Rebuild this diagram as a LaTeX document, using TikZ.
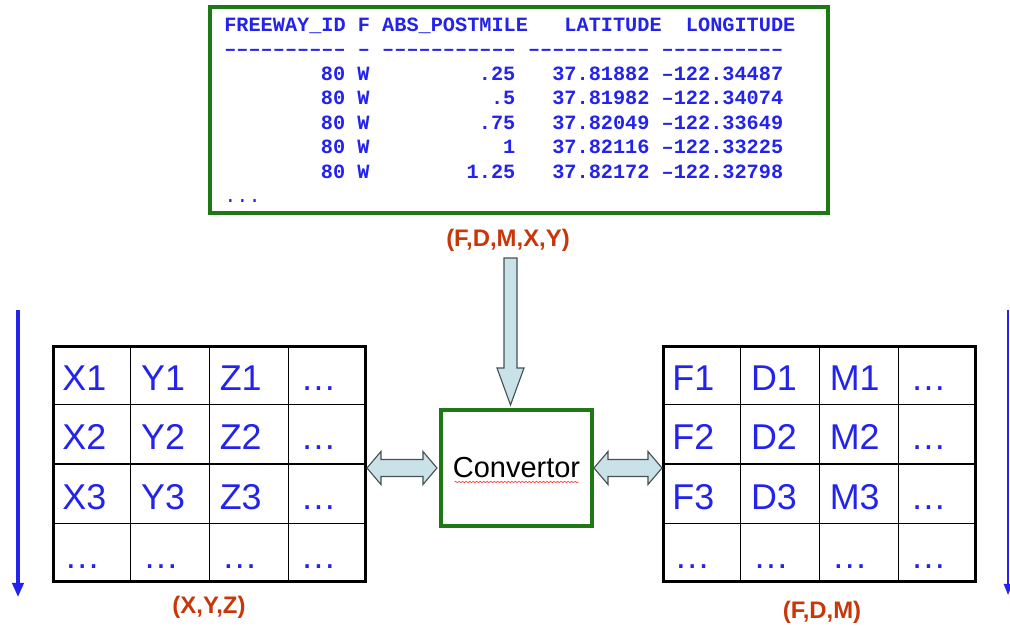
\documentclass[tikz,border=0pt]{standalone}
\usepackage{fontspec}
\setmainfont{Liberation Sans}
\setmonofont{Liberation Mono}
\usetikzlibrary{arrows.meta,calc,decorations.pathmorphing}
\frenchspacing

\definecolor{tblue}{RGB}{35,35,235}
\definecolor{fgreen}{RGB}{30,120,20}
\definecolor{lred}{RGB}{200,55,10}
\definecolor{afill}{RGB}{200,226,232}
\definecolor{aline}{RGB}{70,80,85}

\newcommand{\dashes}[1]{\foreach \k in {1,...,#1}{–}}

\tikzset{
  frame/.style={draw=fgreen, line width=2.8pt, fill=white},
  gridbox/.style={draw, line width=2pt, minimum width=7.8cm, minimum height=5.875cm},
  gridline/.style={line width=0.9pt},
  cell/.style={anchor=base west, inner sep=0pt, text=tblue, font=\fontsize{25.5}{28}\selectfont},
  code/.style={anchor=base west, inner sep=0pt, text=tblue, font=\fontsize{14.4}{16}\selectfont\ttfamily\bfseries},
  tuple/.style={inner sep=0pt, text=lred, font=\fontsize{17}{20}\selectfont\bfseries},
  blockar/.style={draw=aline, fill=afill, line width=0.8pt, line join=miter},
  sidearrow/.style={draw=tblue, -{Triangle[length=10pt,width=8pt]}},
  spell/.style={draw=red!75!white, line width=0.5pt, decorate, decoration={snake, amplitude=0.5pt, segment length=2.5pt}}
}

\begin{document}
\begin{tikzpicture}[x=0.025cm, y=-0.025cm]
  \useasboundingbox (0,0) rectangle (1010,628);

  % query output
  \node[frame, minimum width=15.45cm, minimum height=5.15cm] (table) at (519,110) {};
  \node[code] (head) at (224,31.5) {FREEWAY\_ID~F~ABS\_POSTMILE~~~LATITUDE~~LONGITUDE};
  \node[code] (rule) at (224,56) {\dashes{10}~–~\dashes{11}~\dashes{10}~\dashes{10}};
  \foreach \post/\lat/\lon [count=\i] in {.25/37.81882/122.34487, .5/37.81982/122.34074,
      .75/37.82049/122.33649, 1/37.82116/122.33225, 1.25/37.82172/122.32798} {
    \node[code, anchor=base east] (fw\i) at (224+12*12.15, 56+24.5*\i) {80~W};
    \node[code, anchor=base east] (pm\i) at (224+24*12.15, 56+24.5*\i) {\post};
    \node[code] (ll\i) at (224+27*12.15, 56+24.5*\i) {\lat~–\lon};
  }
  \node[code, font=\fontsize{14.4}{16}\selectfont\ttfamily] (more) at (224,203) {...};

  \node[tuple] (fdmxy) at (508,240) {(F,D,M,X,Y)};

  % converter and the two tables
  \node[frame, minimum width=3.775cm, minimum height=2.9cm, font=\fontsize{20.6}{24}\selectfont] (conv) at (516.5,468) {Convertor};
  \draw[spell] ($(conv.base)+(-62,4)$) -- ($(conv.base)+(62,4)$);

  \node[gridbox] (xyz) at (209.5,464) {};
  \node[gridbox] (fdm) at (819.5,464) {};
  \foreach \g/\a/\b/\c in {xyz/X/Y/Z, fdm/F/D/M} {
    \foreach \n in {1,2,3} {
      \draw[gridline] ($(\g.north west)+(\n*78.75,0)$) -- ($(\g.south west)+(\n*78.75,0)$);
      \draw[gridline] ($(\g.north west)+(0,\n*59.5)$) -- ($(\g.north east)+(0,\n*59.5)$);
    }
    \foreach \r in {1,2,3} {
      \foreach \l [count=\k from 0] in {\a,\b,\c}
        \node[cell] (\g-\r-\k) at ($(\g.north west)+(\k*78.75+10, \r*59.5-14.5)$) {\l\r};
      \node[cell] (\g-\r-3) at ($(\g.north west)+(3*78.75+12, \r*59.5-14.5)$) {\dots};
    }
    \foreach \k in {0,...,3}
      \node[cell] (\g-4-\k) at ($(\g.north west)+(\k*78.75+12, 4*59.5-14.5)$) {\dots};
  }

  \node[tuple] (xyzlbl) at (209,607) {(X,Y,Z)};
  \node[tuple] (fdmlbl) at (822,612) {(F,D,M)};

  % block arrows
  \draw[blockar] (conv.north) ++(-6,-3) -- ++(-13.5,-37) -- ++(7,0) -- ++(0,-110)
    -- ++(13,0) -- ++(0,110) -- ++(7,0) -- cycle;
  \draw[blockar] (xyz.east |- conv.center) -- ++(14,-16.5) -- ++(0,8) -- ++(42,0) -- ++(0,-8)
    -- ++(14,16.5) -- ++(-14,16.5) -- ++(0,-8) -- ++(-42,0) -- ++(0,8) -- cycle;
  \draw[blockar] (conv.east) -- ++(14,-16.5) -- ++(0,8) -- ++(40,0) -- ++(0,-8)
    -- ++(14,16.5) -- ++(-14,16.5) -- ++(0,-8) -- ++(-40,0) -- ++(0,8) -- cycle;

  % row direction
  \coordinate (lt) at (18,310);
  \coordinate (lb) at (18,597);
  \draw[sidearrow, line width=2.2pt] (lt) -- (lb);
  \coordinate (rt) at (1008,310);
  \coordinate (rb) at (1008,595);
  \draw[sidearrow, line width=1pt, -{Triangle[length=8pt,width=6pt]}] (rt) -- (rb);
\end{tikzpicture}
\end{document}
